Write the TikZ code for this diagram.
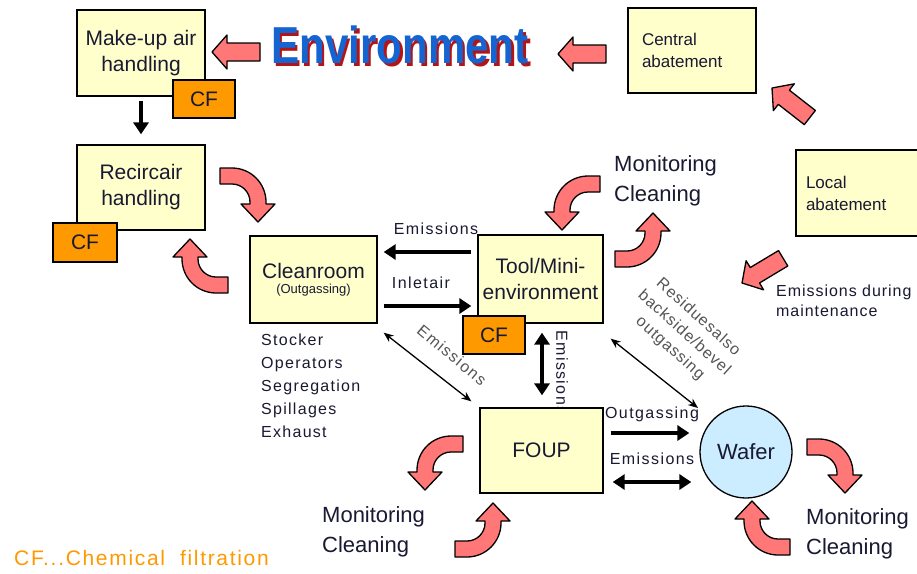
\documentclass[tikz,border=0pt]{standalone}
\usepackage{fontspec}
\setmainfont{Liberation Sans}
\usetikzlibrary{arrows.meta,calc}

\definecolor{boxfill}{RGB}{255,255,204}
\definecolor{cforange}{RGB}{255,153,0}
\definecolor{pinkarr}{RGB}{255,119,119}
\definecolor{waferfill}{RGB}{204,236,255}
\definecolor{envblue}{RGB}{20,100,210}
\definecolor{envred}{RGB}{180,20,20}
\definecolor{txt}{RGB}{25,25,50}
\definecolor{graytxt}{RGB}{85,85,85}

\newcommand\lsp[1]{\addfontfeature{LetterSpace=#1}}

\tikzset{
  pinkshape/.style={fill=pinkarr, draw=black, line width=1.3pt, line join=round},
  boxnode/.style={draw=black, line width=1.3pt, fill=boxfill, inner sep=2pt, align=center, text=txt},
  cfnode/.style={draw=black, line width=1.3pt, fill=cforange, minimum width=62pt, minimum height=38pt, inner sep=0pt, text=txt, font=\fontsize{21}{21}\selectfont},
  bigfont/.style={font=\fontsize{21}{26}\selectfont},
  lbl/.style={text=txt, font=\fontsize{16}{16}\selectfont\lsp{9}, inner sep=0pt},
  thickarr/.style={line width=4pt, -{Triangle[length=12pt,width=15pt]}},
  thickdbl/.style={line width=4pt, {Triangle[length=12pt,width=15pt]}-{Triangle[length=12pt,width=15pt]}},
  thindbl/.style={line width=1.3pt, {Stealth[length=10pt,width=8pt]}-{Stealth[length=10pt,width=8pt]}},
  montext/.style={text=txt, align=left, anchor=north west, inner sep=0pt, font=\fontsize{22}{30}\selectfont},
}

\newcommand\bentarr[1]{%
  \begin{scope}[#1]
    \filldraw[pinkshape] (0,-8) -- (12,-8) .. controls (30.78,-8) and (46,7.22) .. (46,26)
      -- (46,28) -- (55,28) -- (38,46) -- (21,28) -- (30,28) -- (30,26)
      .. controls (30,16.06) and (21.94,8) .. (12,8) -- (0,8) -- cycle;
  \end{scope}}
\newcommand\blockarr[1]{%
  \begin{scope}[#1]
    \filldraw[pinkshape] (0,0) -- (15,-17) -- (15,-9) -- (48,-9) -- (48,9) -- (15,9) -- (15,17) -- cycle;
  \end{scope}}

\begin{document}
\begin{tikzpicture}[x=1pt,y=-1pt]
\clip (0,0) rectangle (917,573);
\fill[white] (0,0) rectangle (917,573);

% Environment title
\node[text=envred, font=\fontsize{52}{52}\bfseries, xscale=0.81, inner sep=0pt] (envshadow) at (402.5,48) {Environment};
\node[text=envblue, font=\fontsize{52}{52}\bfseries, xscale=0.81, inner sep=0pt] (env) at (400,45) {Environment};

% label that lies partly under the FOUP box
\node[lbl, rotate=-90, anchor=west] (emvert) at (562,330) {Emissions};

% boxes
\node[boxnode, minimum width=128pt, minimum height=86pt, bigfont] (makeup) at (141,53) {Make-up air\\handling};
\node[boxnode, minimum width=128pt, minimum height=85pt, bigfont] (recirc) at (141,187.5) {Recircair\\handling};
\node[boxnode, minimum width=127pt, minimum height=87pt] (clean) at (313.5,279.5) {\fontsize{21}{24}\selectfont Cleanroom\\[3pt]\fontsize{13}{14}\selectfont (Outgassing)};
\node[boxnode, minimum width=125pt, minimum height=88pt, bigfont, inner sep=0pt] (tool) at (540.5,279) {Tool/Mini-\\environment};
\node[boxnode, minimum width=123pt, minimum height=85pt, bigfont] (foup) at (541.5,450.5) {FOUP};
\node[boxnode, minimum width=128pt, minimum height=85pt, align=left, text width=100pt, font=\fontsize{17}{22}\selectfont] (central) at (692,50.5) {Central\\abatement};
\node[boxnode, minimum width=129pt, minimum height=86pt, align=left, text width=109pt, font=\fontsize{17}{22}\selectfont] (local) at (860.5,193) {Local\\abatement};
\node[circle, draw=black, line width=1.3pt, fill=waferfill, minimum size=92pt, inner sep=0pt, text=txt, font=\fontsize{22}{22}\selectfont] (wafer) at (746,452) {Wafer};

% CF boxes
\node[cfnode] (cf1) at (204,99) {CF};
\node[cfnode, minimum width=64pt, minimum height=39pt] (cf2) at (85,242.5) {CF};
\node[cfnode] (cf3) at (494,335) {CF};

% straight pink block arrows
\blockarr{shift={(212,52)}}
\blockarr{shift={(558,54)}}
\blockarr{shift={(772,88)}, rotate=-38}
\blockarr{shift={(742,283)}, rotate=31}

% bent pink arrows
\bentarr{shift={(220,176)}}
\bentarr{shift={(228,285)}, rotate=180}
\bentarr{shift={(600,184)}, xscale=-1}
\bentarr{shift={(615,259)}, yscale=-1}
\bentarr{shift={(463,444)}, xscale=-1}
\bentarr{shift={(455,549)}, yscale=-1}
\bentarr{shift={(807,447)}}
\bentarr{shift={(790,547)}, rotate=180}

% black connectors
\draw[thickarr, shorten <=4pt, shorten >=10pt] (makeup.south) -- (recirc.north);
\draw[thickarr] ([xshift=-6pt,yshift=27pt]tool.west) -- ([xshift=6pt,yshift=27.5pt]clean.east);
\draw[thickarr] ([xshift=6pt,yshift=-26.5pt]clean.east) -- ([xshift=-6pt,yshift=-27pt]tool.west);
\draw[thickdbl] ([xshift=1.5pt,yshift=-9pt]tool.south) -- ([xshift=0.5pt,yshift=12pt]foup.north);
\draw[thindbl] ([xshift=6pt,yshift=-9pt]clean.south east) -- ([xshift=-8pt,yshift=6pt]foup.north west);
\draw[thindbl] ([xshift=7pt,yshift=-15pt]tool.south east) -- ([xshift=-15pt,yshift=11pt]wafer.north west);
\draw[thickarr] ([xshift=7pt,yshift=17.5pt]foup.east) -- ([xshift=-10pt,yshift=19pt]wafer.west);
\draw[thickdbl] ([xshift=9pt,yshift=-31.5pt]foup.east) -- ([xshift=-8pt,yshift=-30pt]wafer.west);

% connector labels
\node[lbl] (lblem1) at (436,229) {Emissions};
\node[lbl] (lblinlet) at (421,283) {Inletair};
\node[lbl, text=graytxt, rotate=-40] (lblem2) at (452,355) {Emissions};
\node[lbl, text=graytxt, rotate=-42, align=center, font=\fontsize{16}{21}\selectfont\lsp{6}] (lblres) at (684,333) {Residuesalso\\backside/bevel\\outgassing};
\node[lbl] (lblout) at (652,414) {Outgassing};
\node[lbl] (lblem3) at (652,459) {Emissions};

% free texts
\node[montext] (mon1) at (614,155) {Monitoring\\Cleaning};
\node[montext] (mon2) at (322,506) {Monitoring\\Cleaning};
\node[montext] (mon3) at (806,508) {Monitoring\\Cleaning};
\node[lbl, align=left, anchor=north west, font=\fontsize{16}{20}\selectfont\lsp{6}] (maint) at (776,285) {Emissions during\\maintenance};
\node[lbl, align=left, anchor=north west, font=\fontsize{16}{23}\selectfont\lsp{8}] (list) at (261,334) {Stocker\\Operators\\Segregation\\Spillages\\Exhaust};
\node[text=cforange, anchor=west, inner sep=0pt, font=\fontsize{21}{21}\selectfont\lsp{8}] (legend) at (14,558) {CF...Chemical\ \ filtration};
\end{tikzpicture}
\end{document}
